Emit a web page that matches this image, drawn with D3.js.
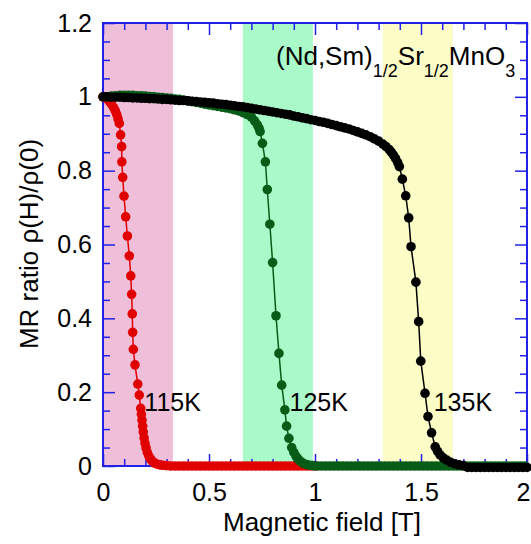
<!DOCTYPE html>
<html><head><meta charset="utf-8">
<script src="https://cdn.jsdelivr.net/npm/d3@7"></script>
<style>html,body{margin:0;padding:0;background:#fff;}svg{display:block;font-family:"Liberation Sans",Arial,Helvetica,sans-serif;}</style>
</head><body>
<script>
// ---- data ----
const field115 = [0.000,0.010,0.020,0.030,0.040,0.050,0.058,0.065,0.071,0.077,0.083,0.088,0.089,0.093,0.099,0.107,0.115,0.124,0.131,0.135,0.138,0.140,0.143,0.151,0.164,0.171,0.178,0.181,0.184,0.187,0.190,0.194,0.198,0.203,0.209,0.216,0.224,0.233,0.243,0.255,0.268,0.282,0.300,
0.32,0.34,0.36,0.38,0.40,0.42,0.44,0.46,0.48,0.50,0.52,0.54,0.56,0.58,0.60,0.62,0.64,0.66,0.68,0.70,0.72,0.74,0.76,0.78,0.80,0.82,0.84,0.86,0.88,0.90,0.92,0.94,0.96,0.98,1.00];
const mr115 = [1.000,0.998,0.994,0.988,0.980,0.971,0.962,0.952,0.940,0.928,0.897,0.865,0.824,0.782,0.731,0.675,0.623,0.569,0.515,0.465,0.412,0.362,0.316,0.274,0.222,0.192,0.156,0.140,0.124,0.108,0.092,0.076,0.062,0.049,0.037,0.027,0.019,0.013,0.008,0.005,0.003,0.002,0.001,
0,0,0,0,0,0,0,0,0,0,0,0,0,0,0,0,0,0,0,0,0,0,0,0,0,0,0,0,0,0,0,0,0,0,0];

const field125 = [0.02,0.04,0.06,0.08,0.10,0.12,0.14,0.16,0.18,0.20,0.22,0.24,0.26,0.28,0.30,0.32,0.34,0.36,0.38,0.40,0.42,0.44,0.46,0.48,0.50,0.52,0.54,0.56,0.58,0.60,0.62,0.64,0.66,0.68,0.70,0.715,0.728,0.736,0.741,0.752,0.766,0.775,0.787,0.800,0.816,0.830,0.843,0.858,0.866,0.877,0.890,0.900,0.910,0.920,0.932,0.945,0.960,0.975,0.990,
1.01,1.03,1.05,1.07,1.09,1.11,1.13,1.15,1.17,1.19,1.21,1.23,1.25,1.27,1.29,1.31,1.33,1.35,1.37,1.39,1.41,1.43,1.45,1.47,1.49,1.51,1.53,1.55,1.57,1.59,1.61,1.63,1.65,1.67,1.69,1.71,1.73,1.75,1.77,1.79,1.81,1.83,1.85,1.87,1.89,1.91,1.93,1.95,1.97,1.99];
const mr125 = [1.000,1.002,1.003,1.004,1.004,1.004,1.004,1.003,1.003,1.002,1.001,1.000,0.999,0.998,0.997,0.996,0.994,0.993,0.991,0.989,0.987,0.985,0.983,0.980,0.978,0.976,0.974,0.972,0.970,0.968,0.965,0.962,0.957,0.952,0.945,0.935,0.924,0.915,0.906,0.874,0.824,0.749,0.655,0.551,0.407,0.305,0.219,0.152,0.108,0.075,0.050,0.037,0.027,0.019,0.012,0.007,0.004,0.002,0.001,
0,0,0,0,0,0,0,0,0,0,0,0,0,0,0,0,0,0,0,0,0,0,0,0,0,0,0,0,0,0,0,0,0,0,0,0,0,0,0,0,0,0,0,0,0,0,0,0,0,0];

const field135 = [0.00,0.02,0.04,0.06,0.08,0.10,0.12,0.14,0.16,0.18,0.20,0.22,0.24,0.26,0.28,0.30,0.32,0.34,0.36,0.38,0.40,0.42,0.44,0.46,0.48,0.50,0.52,0.54,0.56,0.58,0.60,0.62,0.64,0.66,0.68,0.70,0.72,0.74,0.76,0.78,0.80,0.82,0.84,0.86,0.88,0.90,0.92,0.94,0.96,0.98,1.00,1.02,1.04,1.06,1.08,1.10,1.12,1.14,1.16,1.18,1.20,1.22,1.24,1.26,1.28,1.30,1.32,1.335,1.35,1.36,1.37,1.38,1.39,1.398,1.412,1.428,1.442,1.453,1.476,1.489,1.499,1.519,1.533,1.550,1.567,1.578,1.590,1.605,1.621,1.64,1.66,1.68,1.70,
1.72,1.74,1.76,1.78,1.80,1.82,1.84,1.86,1.88,1.90,1.92,1.94,1.96,1.98,2.00];
const mr135 = [1.000,1.000,0.999,0.999,0.999,0.998,0.998,0.997,0.997,0.996,0.996,0.995,0.995,0.994,0.993,0.993,0.992,0.991,0.990,0.990,0.989,0.988,0.987,0.986,0.985,0.984,0.983,0.981,0.980,0.979,0.977,0.976,0.974,0.973,0.971,0.969,0.967,0.965,0.963,0.961,0.959,0.957,0.955,0.953,0.951,0.948,0.946,0.943,0.941,0.938,0.936,0.933,0.931,0.928,0.925,0.922,0.919,0.916,0.913,0.909,0.905,0.901,0.897,0.892,0.886,0.880,0.872,0.865,0.857,0.850,0.842,0.833,0.822,0.811,0.777,0.732,0.672,0.594,0.498,0.391,0.284,0.197,0.134,0.090,0.052,0.040,0.030,0.022,0.016,0.010,0.006,0.003,0.001,
-0.004,-0.004,-0.004,-0.004,-0.004,-0.004,-0.004,-0.004,-0.004,-0.004,-0.004,-0.004,-0.004,-0.004,-0.004];

const bandStarts = [0.00, 0.66, 1.32];
const bandEnds   = [0.33, 0.99, 1.65];
const bandColors = ["#efbfda", "#aaf9c9", "#fcfcc6"];

const seriesNames = ["115K", "125K", "135K"];
const seriesColors = ["#e00000", "#075c17", "#000000"];
const labelFields = [0.195, 0.88, 1.56];
const labelValues = [0.15, 0.15, 0.15];

const xMajorTicks = [0, 0.5, 1, 1.5, 2];
const xTickLabels = ["0", "0.5", "1", "1.5", "2"];
const yMajorTicks = [0, 0.2, 0.4, 0.6, 0.8, 1, 1.2];
const yTickLabels = ["0", "0.2", "0.4", "0.6", "0.8", "1", "1.2"];

// ---- chart ----
const W = 531, H = 544;
const L = 103, R = 527, T = 23, B = 466;
const axisColor = "#2222e6";
const svg = d3.select("body").append("svg").attr("width", W).attr("height", H);
const x = d3.scaleLinear().domain([0, 2]).range([L, R]);
const y = d3.scaleLinear().domain([0, 1.2]).range([B, T]);

// bands
svg.append("g").selectAll("rect").data(bandStarts).join("rect")
  .attr("x", (d) => x(d)).attr("y", T)
  .attr("width", (d, i) => x(bandEnds[i]) - x(d)).attr("height", B - T)
  .attr("fill", (d, i) => bandColors[i]);

// axes
const xMinor = d3.range(0, 21).map(i => i / 10).filter(v => !xMajorTicks.some(m => Math.abs(m - v) < 1e-9));
const yMinor = d3.range(0, 25).map(i => i * 0.05).filter(v => !yMajorTicks.some(m => Math.abs(m - v) < 1e-9));

function styleAxis(g) {
  g.select(".domain").remove();
  g.selectAll(".tick line").attr("stroke", axisColor).attr("stroke-width", 1.5);
  g.selectAll(".tick text").attr("fill", "#000").style("font-size", "25px")
    .style("font-family", '"Liberation Sans",Arial,sans-serif');
}
// bottom
const gxb = svg.append("g").attr("transform", `translate(0,${B})`)
  .call(d3.axisBottom(x).tickValues(xMajorTicks).tickFormat((d, i) => xTickLabels[i]).tickSizeInner(-12).tickSizeOuter(0).tickPadding(17))
  .call(styleAxis);
// keep the last label inside the window
gxb.selectAll(".tick text").filter(d => d === 2).attr("text-anchor", "end").attr("x", 3);
svg.append("g").attr("transform", `translate(0,${B})`)
  .call(d3.axisBottom(x).tickValues(xMinor).tickFormat("").tickSizeInner(-7).tickSizeOuter(0)).call(styleAxis);
// top
svg.append("g").attr("transform", `translate(0,${T})`)
  .call(d3.axisTop(x).tickValues(xMajorTicks).tickFormat("").tickSizeInner(-12).tickSizeOuter(0)).call(styleAxis);
svg.append("g").attr("transform", `translate(0,${T})`)
  .call(d3.axisTop(x).tickValues(xMinor).tickFormat("").tickSizeInner(-7).tickSizeOuter(0)).call(styleAxis);
// left
svg.append("g").attr("transform", `translate(${L},0)`)
  .call(d3.axisLeft(y).tickValues(yMajorTicks).tickFormat((d, i) => yTickLabels[i]).tickSizeInner(-12).tickSizeOuter(0).tickPadding(11))
  .call(styleAxis);
svg.append("g").attr("transform", `translate(${L},0)`)
  .call(d3.axisLeft(y).tickValues(yMinor).tickFormat("").tickSizeInner(-7).tickSizeOuter(0)).call(styleAxis);
// right
svg.append("g").attr("transform", `translate(${R},0)`)
  .call(d3.axisRight(y).tickValues(yMajorTicks).tickFormat("").tickSizeInner(-12).tickSizeOuter(0)).call(styleAxis);
svg.append("g").attr("transform", `translate(${R},0)`)
  .call(d3.axisRight(y).tickValues(yMinor).tickFormat("").tickSizeInner(-7).tickSizeOuter(0)).call(styleAxis);

svg.append("rect").attr("x", L).attr("y", T).attr("width", R - L).attr("height", B - T)
  .attr("fill", "none").attr("stroke", axisColor).attr("stroke-width", 2);

// series
const allFields = [field115, field125, field135];
const allMR = [mr115, mr125, mr135];
const line = d3.line().x(d => x(d[0])).y(d => y(d[1]));
allFields.forEach((fs, si) => {
  const pts = fs.map((f, i) => [f, allMR[si][i]]);
  const g = svg.append("g");
  g.append("path").datum(pts).attr("d", line).attr("fill", "none")
    .attr("stroke", seriesColors[si]).attr("stroke-width", 1.5);
  g.selectAll("circle").data(pts).join("circle")
    .attr("cx", d => x(d[0])).attr("cy", d => y(d[1])).attr("r", 4.8)
    .attr("fill", seriesColors[si]);
});

// series labels
svg.append("g").selectAll("text").data(seriesNames).join("text")
  .attr("x", (d, i) => x(labelFields[i])).attr("y", (d, i) => y(labelValues[i]))
  .attr("font-size", 25).attr("fill", "#000").text(d => d);

// compound formula
const formula = svg.append("text").attr("x", 276).attr("y", 65).attr("font-size", 26).attr("fill", "#000");
formula.append("tspan").text("(Nd,Sm)");
formula.append("tspan").attr("dy", 12).attr("font-size", 18).text("1/2");
formula.append("tspan").attr("dy", -12).text("Sr");
formula.append("tspan").attr("dy", 12).attr("font-size", 18).text("1/2");
formula.append("tspan").attr("dy", -12).text("MnO");
formula.append("tspan").attr("dy", 12).attr("font-size", 18).text("3");

// axis titles
svg.append("text").attr("x", 322).attr("y", 531).attr("text-anchor", "middle")
  .attr("font-size", 26).attr("fill", "#000").text("Magnetic field [T]");
svg.append("text").attr("transform", "translate(38,244) rotate(-90)").attr("text-anchor", "middle")
  .attr("font-size", 26).attr("fill", "#000").text("MR ratio ρ(H)/ρ(0)");
</script>
</body></html>
